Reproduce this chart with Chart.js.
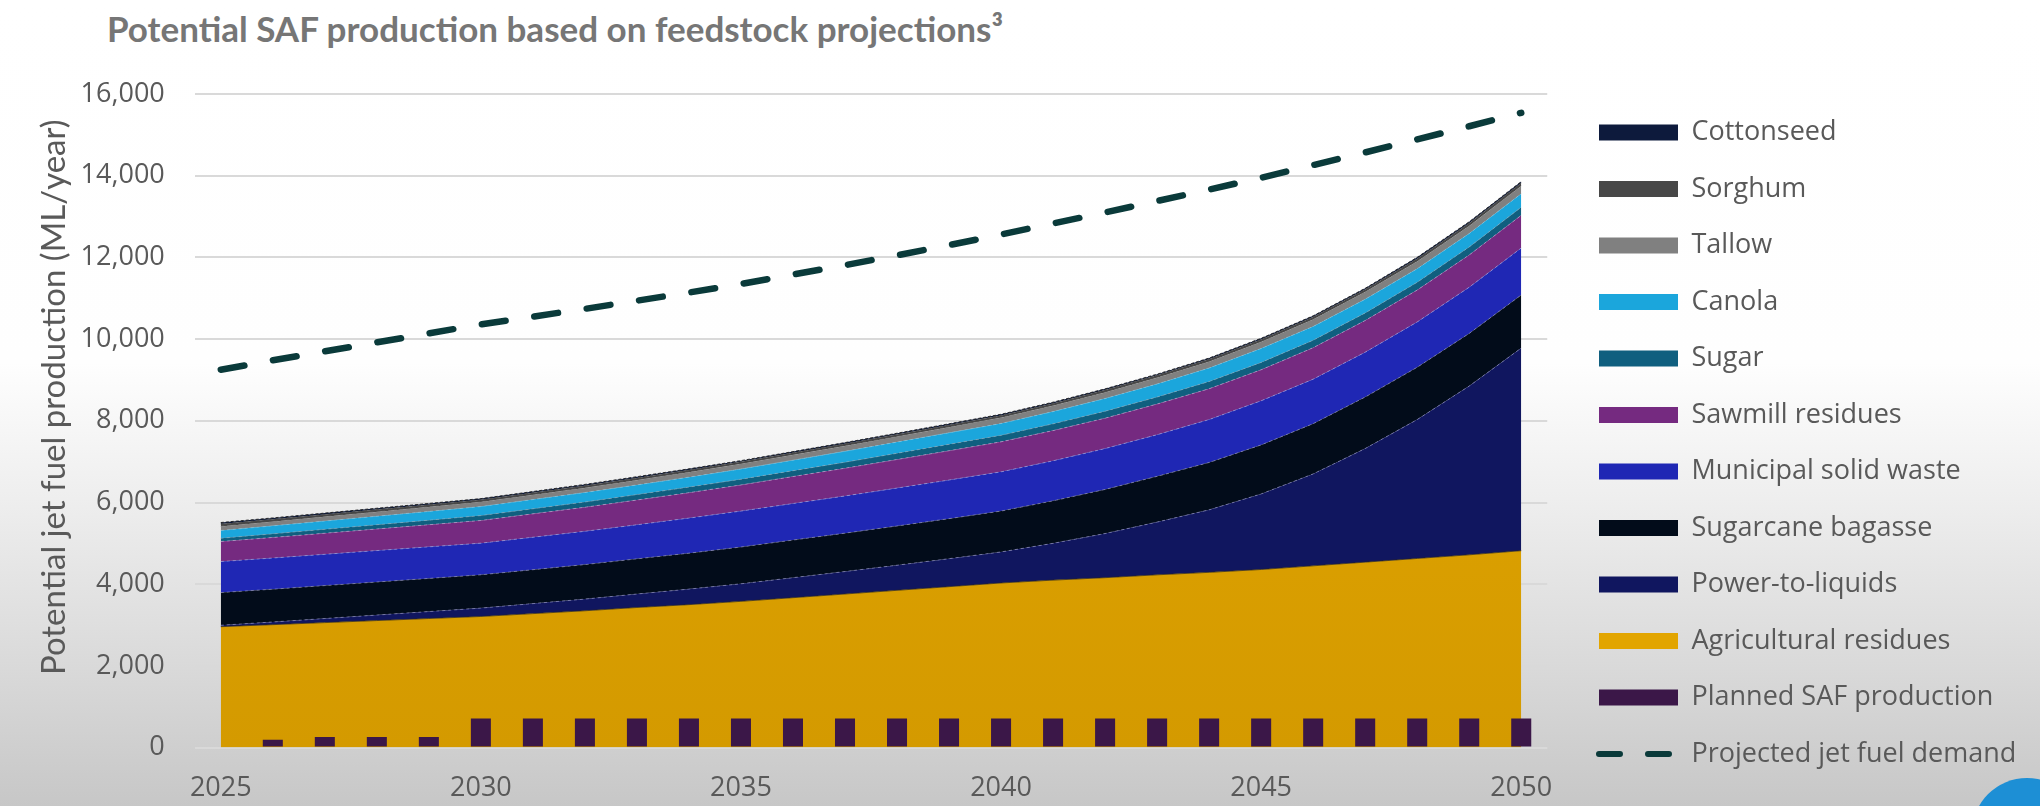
<!DOCTYPE html>
<html>
<head>
<meta charset="utf-8">
<script src="https://cdn.jsdelivr.net/npm/chart.js@4.4.1/dist/chart.umd.min.js"></script>
<style>
html,body{margin:0;padding:0;width:2040px;height:806px;overflow:hidden;}
body{position:relative;background:linear-gradient(to bottom,#ffffff 0%,#fefefe 45%,#ececec 64%,#d8d8d8 84%,#c7c7c7 100%);}
#title{position:absolute;left:107px;top:8px;font-family:Lato,sans-serif;font-weight:bold;font-size:35px;line-height:40px;color:#767676;white-space:nowrap;}
#wrap{position:absolute;left:0;top:0;width:2040px;height:806px;}
#logo{position:absolute;left:1972px;top:778px;width:110px;height:110px;border-radius:50%;background:#1d8fd5;}
</style>
</head>
<body>
<div id="title">Potential SAF production based on feedstock projections³</div>
<div id="wrap"><canvas id="c" width="2040" height="806"></canvas></div>
<div id="logo"></div>
<script>
// ---- data (ML/year) ----
const years = ['2025','2026','2027','2028','2029','2030','2031','2032','2033','2034','2035','2036','2037','2038','2039','2040','2041','2042','2043','2044','2045','2046','2047','2048','2049','2050'];
const agriculturalResidues = [2960,3010,3060,3110,3160,3210,3280,3350,3430,3500,3580,3670,3760,3850,3940,4030,4100,4160,4230,4290,4360,4450,4540,4630,4720,4820];
const powerToLiquids = [35,65,100,135,170,205,245,285,330,380,430,490,550,615,685,760,900,1080,1290,1530,1850,2250,2780,3400,4130,4960];
const sugarcaneBagasse = [800,803,806,809,812,815,830,845,860,880,900,920,940,960,980,1000,1040,1080,1120,1160,1200,1230,1260,1280,1290,1300];
const municipalSolidWaste = [760,763,766,769,772,775,795,815,835,858,880,895,910,928,945,960,980,1000,1020,1050,1080,1090,1100,1110,1130,1150];
const sawmillResidues = [490,503,516,529,542,555,572,589,606,623,640,660,680,700,718,735,740,745,750,755,760,770,775,780,790,800];
const sugar = [80,88,96,104,112,120,124,128,132,136,140,144,148,152,156,160,165,170,172,176,180,182,185,190,195,200];
const canola = [190,196,202,208,214,220,226,232,238,244,250,258,266,274,282,290,300,310,320,330,340,338,335,332,330,330];
const tallow = [100,102,104,106,108,110,112,114,116,118,120,124,128,132,136,140,145,150,152,156,160,168,175,180,185,190];
const sorghum = [60,59,58,57,56,55,55,55,55,55,55,55,55,55,55,55,56,57,58,59,60,61,62,65,68,70];
const cottonseed = [35,34,33,32,31,30,30,30,30,30,30,30,30,30,30,30,30,30,30,30,30,31,32,35,35,35];
const plannedSAF = [null,190,260,260,260,710,710,710,710,710,710,710,710,710,710,710,710,710,710,710,710,710,710,710,710,710];
const projectedDemand = [9250,9480,9700,9920,10140,10360,10550,10740,10940,11140,11350,11580,11810,12050,12300,12560,12830,13100,13380,13660,13950,14260,14570,14890,15210,15540];
const yTicks = [0,2000,4000,6000,8000,10000,12000,14000,16000];

// ---- series definitions (bottom of stack first) ----
const areaSeries = [
  {label:'Agricultural residues', data:agriculturalResidues, color:'#e2a500', border:'rgba(50,40,20,0.75)', dash:[]},
  {label:'Power-to-liquids', data:powerToLiquids, color:'#10165f', border:'rgba(150,150,200,0.6)', dash:[3,3]},
  {label:'Sugarcane bagasse', data:sugarcaneBagasse, color:'#020c1a', border:'rgba(150,150,200,0.6)', dash:[3,3]},
  {label:'Municipal solid waste', data:municipalSolidWaste, color:'#1f27b4', border:'rgba(170,170,220,0.6)', dash:[3,3]},
  {label:'Sawmill residues', data:sawmillResidues, color:'#752a80', border:'rgba(190,170,210,0.6)', dash:[3,3]},
  {label:'Sugar', data:sugar, color:'#105f7f', border:'rgba(150,180,200,0.5)', dash:[3,3]},
  {label:'Canola', data:canola, color:'#1ba6dc', border:'rgba(150,200,220,0.5)', dash:[3,3]},
  {label:'Tallow', data:tallow, color:'#808080', border:'rgba(120,120,120,0.6)', dash:[3,3]},
  {label:'Sorghum', data:sorghum, color:'#474747', border:'rgba(70,70,70,0.8)', dash:[3,3]},
  {label:'Cottonseed', data:cottonseed, color:'#0d1a3c', border:'rgba(30,30,30,0.9)', dash:[3,2]}
];
const plannedColor = '#3b1748';
const demandColor = '#0a3a3a';
const legendOrder = ['Cottonseed','Sorghum','Tallow','Canola','Sugar','Sawmill residues','Municipal solid waste','Sugarcane bagasse','Power-to-liquids','Agricultural residues','Planned SAF production','Projected jet fuel demand'];

const datasets = areaSeries.map((s, i) => ({
  type: 'line',
  label: s.label,
  data: s.data,
  stack: 'feed',
  fill: i === 0 ? 'origin' : '-1',
  backgroundColor: i === 0 ? function(ctx) {
      const area = ctx.chart.chartArea;
      if (!area) return s.color;
      const g = ctx.chart.ctx.createLinearGradient(0, area.top, 0, area.bottom);
      g.addColorStop(0, '#e6a900'); g.addColorStop(1, '#d49a00');
      return g;
    } : s.color,
  borderColor: s.border,
  borderWidth: 1,
  borderDash: s.dash,
  pointRadius: 0,
  tension: 0
}));
datasets.push({
  type: 'bar',
  label: 'Planned SAF production',
  data: plannedSAF,
  stack: 'planned',
  backgroundColor: plannedColor,
  barPercentage: 0.385,
  categoryPercentage: 1.0
});
datasets.push({
  type: 'line',
  label: 'Projected jet fuel demand',
  data: projectedDemand,
  stack: 'demand',
  fill: false,
  borderColor: demandColor,
  borderWidth: 6.5,
  borderDash: [24, 29],
  borderCapStyle: 'round',
  pointRadius: 0,
  tension: 0
});

const colorByLabel = {};
areaSeries.forEach(s => colorByLabel[s.label] = s.color);
colorByLabel['Planned SAF production'] = plannedColor;

const tickFont = {family: "'Open Sans', sans-serif", size: 27};

// places the legend block (swatch column and first row) like the reference
const legendPlacer = {
  id: 'legendPlacer',
  afterLayout(chart) {
    const lg = chart.legend;
    if (!lg) return;
    const pad = lg.options.labels.padding;
    const w = lg.width;
    lg.left = 1599 - pad;
    lg.right = lg.left + w;
    lg.top = 132.4 - 13.5 - pad;
  }
};

new Chart(document.getElementById('c'), {
  type: 'bar',
  data: {labels: years, datasets: datasets},
  plugins: [legendPlacer],
  options: {
    responsive: false,
    devicePixelRatio: 1,
    animation: false,
    events: [],
    layout: {padding: {left: 35, top: 94, right: 36, bottom: 1}},
    plugins: {
      filler: {drawTime: 'beforeDatasetsDraw'},
      tooltip: {enabled: false},
      title: {display: false},
      legend: {
        position: 'right',
        align: 'start',
        labels: {
          usePointStyle: true,
          pointStyleWidth: 79,
          boxHeight: 16,
          padding: 29.5,
          color: '#595959',
          font: {family: "'Open Sans', sans-serif", size: 27},
          generateLabels: function(chart) {
            return legendOrder.map(name => {
              const idx = chart.data.datasets.findIndex(d => d.label === name);
              const isDemand = name === 'Projected jet fuel demand';
              return {
                text: name,
                datasetIndex: idx,
                fillStyle: isDemand ? 'rgba(0,0,0,0)' : colorByLabel[name],
                strokeStyle: isDemand ? demandColor : colorByLabel[name],
                lineWidth: isDemand ? 6 : 0,
                lineDash: isDemand ? [21, 28] : [],
                lineCap: isDemand ? 'round' : 'butt',
                pointStyle: isDemand ? 'line' : 'rect',
                fontColor: '#595959',
                hidden: false
              };
            });
          }
        }
      }
    },
    scales: {
      x: {
        type: 'category',
        offset: true,
        grid: {display: false, drawTicks: false},
        border: {display: false},
        afterFit: function(scale) { scale.height -= scale.options.ticks.padding; },
        ticks: {
          autoSkip: false,
          maxRotation: 0,
          padding: 25,
          color: '#595959',
          font: tickFont,
          callback: function(val, idx) { return idx % 5 === 0 ? this.getLabelForValue(val) : ''; }
        }
      },
      y: {
        stacked: true,
        min: 0,
        max: 16000,
        afterBuildTicks: function(scale) { scale.ticks = yTicks.map(v => ({value: v})); },
        afterFit: function(scale) { scale.width -= scale.options.ticks.padding; },
        grid: {color: '#d9d9d9', lineWidth: 2, drawTicks: false},
        border: {display: false},
        ticks: {
          padding: 30,
          color: '#595959',
          font: tickFont,
          callback: v => v.toLocaleString('en-US')
        },
        title: {
          display: true,
          text: 'Potential jet fuel production (ML/year)\u00a0\u00a0\u00a0',
          align: 'end',
          color: '#595959',
          font: {family: 'Lato, sans-serif', size: 33},
          padding: {top: 0, bottom: 6}
        }
      }
    }
  }
});
</script>
</body>
</html>
